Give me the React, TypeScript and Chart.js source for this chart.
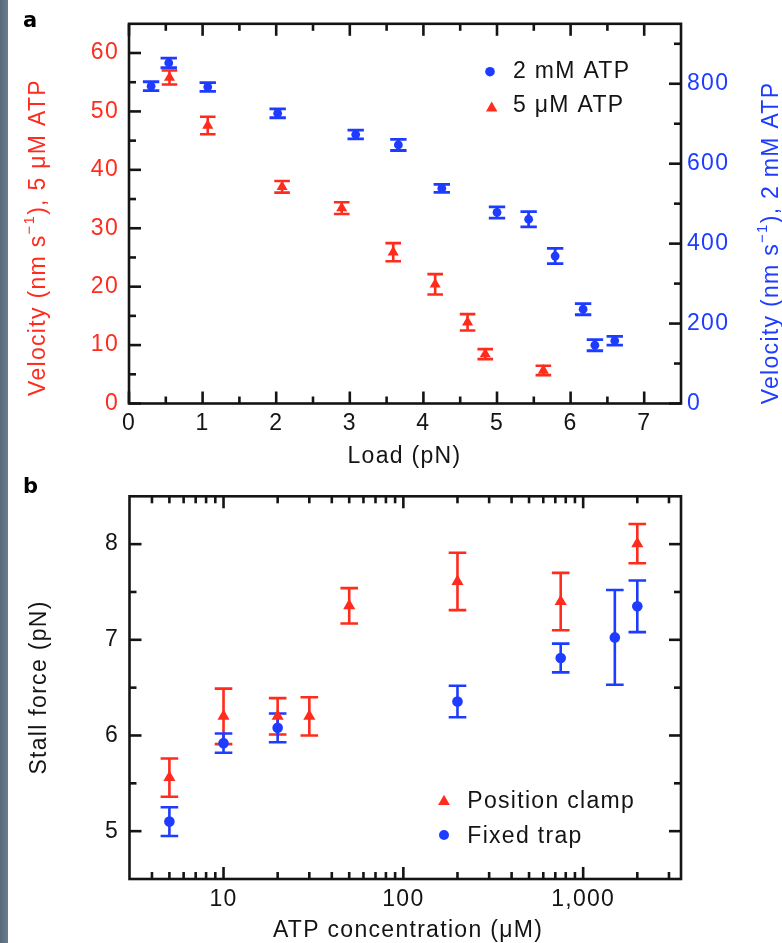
import React, { useEffect, useRef } from "react";
import { Chart, registerables } from "chart.js";
Chart.register(...registerables);

// ---------------- Panel a: velocity vs load ----------------
const loadTwoMM = [0.3, 0.54, 1.07, 2.02, 3.08, 3.66, 4.25, 5.0, 5.43, 5.79, 6.17, 6.33, 6.6];
const velTwoMM = [794, 852, 792, 726, 673, 647, 538, 478, 461, 369, 236, 146, 157];
const errTwoMM = [11, 12, 11, 11, 11, 14, 10, 14, 19, 19, 14, 14, 11];

const loadFiveUM = [0.55, 1.07, 2.08, 2.89, 3.59, 4.16, 4.6, 4.84, 5.63];
const velFiveUM = [55.8, 47.6, 37.1, 33.45, 25.9, 20.4, 13.9, 8.45, 5.66];
const errFiveUM = [1.2, 1.5, 1.0, 1.0, 1.55, 1.75, 1.4, 0.85, 0.8];

const xTicksA = [0, 1, 2, 3, 4, 5, 6, 7];
const xMinorA = [0.5, 1.5, 2.5, 3.5, 4.5, 5.5, 6.5];
const yTicksA = [0, 10, 20, 30, 40, 50, 60];
const yMinorA = [5, 15, 25, 35, 45, 55];
const y1TicksA = [0, 200, 400, 600, 800];
const y1MinorA = [100, 300, 500, 700, 900];

// ---------------- Panel b: stall force vs ATP ----------------
const atpClamp = [5, 10, 20, 30, 50, 200, 750, 2000];
const forceClamp = [5.56, 6.2, 6.2, 6.2, 7.355, 7.61, 7.4, 8.005];
const errClamp = [0.2, 0.29, 0.19, 0.2, 0.185, 0.3, 0.3, 0.205];

const atpTrap = [5, 10, 20, 200, 750, 1500, 2000];
const forceTrap = [5.1, 5.92, 6.08, 6.355, 6.81, 7.025, 7.35];
const errTrap = [0.15, 0.1, 0.15, 0.165, 0.15, 0.495, 0.27];

const xTicksB = [10, 100, 1000];
const xTickLabelsB = ["10", "100", "1,000"];
const xMinorB = [4, 5, 6, 7, 8, 9, 20, 30, 40, 50, 60, 70, 80, 90, 200, 300, 400, 500, 600, 700, 800, 900, 2000, 3000];
const yTicksB = [5, 6, 7, 8];
const yMinorB = [5.5, 6.5, 7.5];

// ---------------- Styles ----------------
const FONT = '"Liberation Sans", Arial, Helvetica, sans-serif';
const FS = 23;
const LS = "1.3px";
const RED = "#ff2b1d";
const BLUE = "#1e3cff";
const INK = "#141414";
const MAJOR = 12;
const MINOR = 7;

type Side = "left" | "right" | "top" | "bottom";
type TickSet = { scale: string; side: Side; major: number[]; minor: number[] };
type ErrSet = { xs: number[]; ys: number[]; es: number[]; xId: string; yId: string; color: string; cap: number; lw: number };
type Part = { t: string; sup?: boolean };
type TextItem = { parts: Part[]; x: number; y: number; rotate: boolean; color: string; align: "center" | "left"; font?: string };
type LegendItem = { kind: "circle" | "triangle"; mx: number; my: number; r: number; color: string; label: string; tx: number; ty: number };

function drawMarker(ctx: CanvasRenderingContext2D, kind: string, x: number, y: number, r: number, color: string) {
  ctx.save();
  ctx.fillStyle = color;
  ctx.beginPath();
  if (kind === "circle") {
    ctx.arc(x, y, r, 0, Math.PI * 2);
  } else {
    let rad = 0;
    for (let k = 0; k < 3; k++) {
      const px = x + Math.sin(rad) * r;
      const py = y - Math.cos(rad) * r;
      if (k === 0) ctx.moveTo(px, py);
      else ctx.lineTo(px, py);
      rad += (2 * Math.PI) / 3;
    }
    ctx.closePath();
  }
  ctx.fill();
  ctx.restore();
}

function drawText(ctx: any, item: TextItem) {
  ctx.save();
  ctx.letterSpacing = LS;
  ctx.fillStyle = item.color;
  const main = item.font || `${FS}px ${FONT}`;
  const sup = `15px ${FONT}`;
  let total = 0;
  const ws = item.parts.map((p) => {
    ctx.font = p.sup ? sup : main;
    const w = ctx.measureText(p.t).width;
    total += w;
    return w;
  });
  ctx.translate(item.x, item.y);
  if (item.rotate) ctx.rotate(-Math.PI / 2);
  ctx.textBaseline = "alphabetic";
  ctx.textAlign = "left";
  let cx = item.align === "center" ? -total / 2 : 0;
  item.parts.forEach((p, i) => {
    ctx.font = p.sup ? sup : main;
    ctx.fillText(p.t, cx, p.sup ? -11 : 0);
    cx += ws[i];
  });
  ctx.restore();
}

function makeDecor(ticks: TickSet[], errs: ErrSet[], texts: TextItem[], legend: LegendItem[]) {
  return {
    id: "decor",
    beforeUpdate(chart: any) {
      chart.ctx.letterSpacing = LS;
    },
    beforeDraw(chart: any) {
      const ctx = chart.ctx;
      ctx.letterSpacing = LS;
      ctx.save();
      ctx.fillStyle = "#ffffff";
      ctx.fillRect(0, 0, chart.width, chart.height);
      ctx.restore();
    },
    beforeDatasetsDraw(chart: any) {
      const ctx = chart.ctx;
      ctx.save();
      errs.forEach((s) => {
        const xs = chart.scales[s.xId];
        const ys = chart.scales[s.yId];
        ctx.strokeStyle = s.color;
        ctx.lineWidth = s.lw;
        s.xs.forEach((xv, i) => {
          const px = xs.getPixelForValue(xv);
          const hi = ys.getPixelForValue(s.ys[i] + s.es[i]);
          const lo = ys.getPixelForValue(s.ys[i] - s.es[i]);
          ctx.beginPath();
          ctx.moveTo(px, hi);
          ctx.lineTo(px, lo);
          ctx.moveTo(px - s.cap, hi);
          ctx.lineTo(px + s.cap, hi);
          ctx.moveTo(px - s.cap, lo);
          ctx.lineTo(px + s.cap, lo);
          ctx.stroke();
        });
      });
      ctx.restore();
    },
    afterDraw(chart: any) {
      const ctx = chart.ctx;
      const a = chart.chartArea;
      ctx.save();
      ctx.strokeStyle = INK;
      ctx.lineWidth = 2.6;
      ctx.lineCap = "butt";
      ticks.forEach((t) => {
        const s = chart.scales[t.scale];
        const one = (v: number, len: number) => {
          const p = s.getPixelForValue(v);
          ctx.beginPath();
          if (t.side === "left") { ctx.moveTo(a.left, p); ctx.lineTo(a.left + len, p); }
          if (t.side === "right") { ctx.moveTo(a.right, p); ctx.lineTo(a.right - len, p); }
          if (t.side === "top") { ctx.moveTo(p, a.top); ctx.lineTo(p, a.top + len); }
          if (t.side === "bottom") { ctx.moveTo(p, a.bottom); ctx.lineTo(p, a.bottom - len); }
          ctx.stroke();
        };
        t.major.forEach((v) => one(v, MAJOR));
        t.minor.forEach((v) => one(v, MINOR));
      });
      ctx.lineJoin = "miter";
      ctx.strokeRect(a.left, a.top, a.right - a.left, a.bottom - a.top);
      ctx.restore();
      texts.forEach((t) => drawText(ctx, t));
      legend.forEach((l) => {
        drawMarker(ctx, l.kind, l.mx, l.my, l.r, l.color);
        drawText(ctx, { parts: [{ t: l.label }], x: l.tx, y: l.ty, rotate: false, color: INK, align: "left" });
      });
    },
  };
}

function axisTicks(values: number[], labels: string[] | null, color: string, padding: number) {
  return {
    afterBuildTicks: (s: any) => {
      s.ticks = values.map((v) => ({ value: v }));
    },
    ticks: {
      font: { family: FONT, size: FS },
      color,
      padding,
      autoSkip: false,
      maxRotation: 0,
      minRotation: 0,
      callback: (v: any, i: number) => (labels ? labels[i] : String(v)),
    },
    grid: { display: false, drawTicks: false },
    border: { display: false },
  };
}

function buildA(): any {
  const ticks: TickSet[] = [
    { scale: "x", side: "bottom", major: xTicksA, minor: xMinorA },
    { scale: "x", side: "top", major: xTicksA, minor: xMinorA },
    { scale: "y", side: "left", major: yTicksA, minor: yMinorA },
    { scale: "y1", side: "right", major: y1TicksA, minor: y1MinorA },
  ];
  const errs: ErrSet[] = [
    { xs: loadFiveUM, ys: velFiveUM, es: errFiveUM, xId: "x", yId: "y", color: RED, cap: 7.8, lw: 2.6 },
    { xs: loadTwoMM, ys: velTwoMM, es: errTwoMM, xId: "x", yId: "y1", color: BLUE, cap: 8.2, lw: 2.8 },
  ];
  const texts: TextItem[] = [
    { parts: [{ t: "Velocity (nm s" }, { t: "\u22121", sup: true }, { t: "), 5 \u03bcM ATP" }], x: 37, y: 237.5, rotate: true, color: RED, align: "center" },
    { parts: [{ t: "Velocity (nm s" }, { t: "\u22121", sup: true }, { t: "), 2 mM ATP" }], x: 770, y: 243, rotate: true, color: BLUE, align: "center" },
    { parts: [{ t: "Load (pN)" }], x: 396.5, y: 463.3, rotate: false, color: INK, align: "center" },
    { parts: [{ t: "a" }], x: 15, y: 27, rotate: false, color: "#000", align: "left", font: 'bold 21px "DejaVu Sans", sans-serif' },
  ];
  const legend: LegendItem[] = [
    { kind: "circle", mx: 482, my: 71.7, r: 4.8, color: BLUE, label: "2 mM ATP", tx: 505, ty: 77.7 },
    { kind: "triangle", mx: 483.7, my: 108.2, r: 6.6, color: RED, label: "5 \u03bcM ATP", tx: 505, ty: 111.7 },
  ];
  return {
    type: "scatter",
    data: {
      datasets: [
        {
          label: "2 mM ATP",
          data: loadTwoMM.map((x, i) => ({ x, y: velTwoMM[i] })),
          yAxisID: "y1",
          pointStyle: "circle",
          pointRadius: 4.4,
          backgroundColor: BLUE,
          borderWidth: 0,
        },
        {
          label: "5 \u03bcM ATP",
          data: loadFiveUM.map((x, i) => ({ x, y: velFiveUM[i] })),
          yAxisID: "y",
          pointStyle: "triangle",
          pointRadius: 6.4,
          backgroundColor: RED,
          borderWidth: 0,
        },
      ],
    },
    options: {
      animation: false,
      responsive: false,
      maintainAspectRatio: false,
      layout: { padding: { top: 21, left: 0, right: 0, bottom: 0 }, autoPadding: false },
      plugins: { legend: { display: false }, tooltip: { enabled: false } },
      scales: {
        x: { type: "linear", position: "bottom", min: 0, max: 7.5, afterFit: (s: any) => { s.height = 66.5; }, ...axisTicks(xTicksA, null, INK, 6) },
        y: { type: "linear", position: "left", min: 0, max: 65, afterFit: (s: any) => { s.width = 121; }, ...axisTicks(yTicksA, null, RED, 10) },
        y1: { type: "linear", position: "right", min: 0, max: 950, afterFit: (s: any) => { s.width = 101; }, ...axisTicks(y1TicksA, null, BLUE, 6) },
      },
    },
    plugins: [makeDecor(ticks, errs, texts, legend)],
  };
}

function buildB(): any {
  const ticks: TickSet[] = [
    { scale: "x", side: "bottom", major: xTicksB, minor: xMinorB },
    { scale: "x", side: "top", major: xTicksB, minor: xMinorB },
    { scale: "y", side: "left", major: yTicksB, minor: yMinorB },
    { scale: "y", side: "right", major: yTicksB, minor: yMinorB },
  ];
  const errs: ErrSet[] = [
    { xs: atpClamp, ys: forceClamp, es: errClamp, xId: "x", yId: "y", color: RED, cap: 8.8, lw: 2.6 },
    { xs: atpTrap, ys: forceTrap, es: errTrap, xId: "x", yId: "y", color: BLUE, cap: 8.8, lw: 2.6 },
  ];
  const texts: TextItem[] = [
    { parts: [{ t: "Stall force (pN)" }], x: 37.5, y: 217.5, rotate: true, color: INK, align: "center" },
    { parts: [{ t: "ATP concentration (\u03bcM)" }], x: 400, y: 467, rotate: false, color: INK, align: "center" },
    { parts: [{ t: "b" }], x: 15, y: 23, rotate: false, color: "#000", align: "left", font: 'bold 21px "DejaVu Sans", sans-serif' },
  ];
  const legend: LegendItem[] = [
    { kind: "triangle", mx: 436, my: 331.5, r: 6.8, color: RED, label: "Position clamp", tx: 459.3, ty: 338 },
    { kind: "circle", mx: 436, my: 365, r: 5, color: BLUE, label: "Fixed trap", tx: 459.3, ty: 372.7 },
  ];
  return {
    type: "scatter",
    data: {
      datasets: [
        {
          label: "Fixed trap",
          data: atpTrap.map((x, i) => ({ x, y: forceTrap[i] })),
          pointStyle: "circle",
          pointRadius: 5.3,
          backgroundColor: BLUE,
          borderWidth: 0,
        },
        {
          label: "Position clamp",
          data: atpClamp.map((x, i) => ({ x, y: forceClamp[i] })),
          pointStyle: "triangle",
          pointRadius: 7,
          backgroundColor: RED,
          borderWidth: 0,
        },
      ],
    },
    options: {
      animation: false,
      responsive: false,
      maintainAspectRatio: false,
      layout: { padding: { top: 26.3, left: 0, right: 101, bottom: 0 }, autoPadding: false },
      plugins: { legend: { display: false }, tooltip: { enabled: false } },
      scales: {
        x: { type: "logarithmic", position: "bottom", min: 3, max: 3500, afterFit: (s: any) => { s.height = 64; }, ...axisTicks(xTicksB, xTickLabelsB, INK, 6.5) },
        y: { type: "linear", position: "left", min: 4.5, max: 8.5, afterFit: (s: any) => { s.width = 121.5; }, ...axisTicks(yTicksB, null, INK, 10.5) },
      },
    },
    plugins: [makeDecor(ticks, errs, texts, legend)],
  };
}

export default function App() {
  const refA = useRef<HTMLCanvasElement>(null);
  const refB = useRef<HTMLCanvasElement>(null);
  useEffect(() => {
    const a = new Chart(refA.current as HTMLCanvasElement, buildA());
    const b = new Chart(refB.current as HTMLCanvasElement, buildB());
    return () => {
      a.destroy();
      b.destroy();
    };
  }, []);
  return (
    <div style={{ position: "absolute", left: 0, top: 0, width: 782, height: 943, background: "#ffffff", overflow: "hidden" }}>
      <div style={{ position: "absolute", left: 0, top: 0, width: 8, height: 943, background: "linear-gradient(90deg, #56697b, #687d90)" }} />
      <canvas ref={refA} width={774} height={470} style={{ position: "absolute", left: 8, top: 0, width: 774, height: 470 }} />
      <canvas ref={refB} width={774} height={473} style={{ position: "absolute", left: 8, top: 470, width: 774, height: 473 }} />
    </div>
  );
}
